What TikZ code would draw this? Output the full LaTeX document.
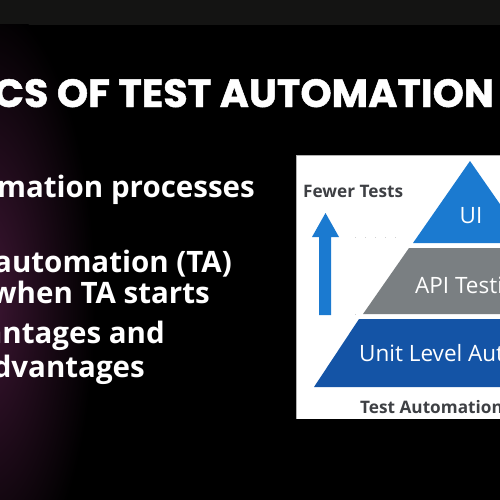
\documentclass[tikz,border=0pt]{standalone}
\usepackage{fontspec}
\usepackage{graphicx}
\newfontfamily\titlefont{Poppins}[BoldFeatures={FakeBold=1.2}]
\newfontfamily\bodyfont{Open Sans}
\newfontfamily\pyrfont{Open Sans}
\definecolor{topstrip}{RGB}{20,20,19}
\definecolor{glow}{RGB}{62,22,52}
\definecolor{uiblue}{RGB}{27,122,208}
\definecolor{apigray}{RGB}{122,127,130}
\definecolor{unitblue}{RGB}{20,84,166}
\definecolor{labelgray}{RGB}{62,64,68}
\tikzset{
  title/.style={text=white, inner sep=0pt, font=\titlefont\bfseries},
  bodytext/.style={text=white, inner sep=0pt, font=\bodyfont\bfseries\fontsize{29.5}{33}\selectfont},
  layerlabel/.style={text=white, inner sep=0pt, font=\pyrfont\fontsize{22.5}{25}\selectfont},
  caption/.style={text=labelgray, inner sep=0pt, font=\pyrfont\bfseries\fontsize{17.2}{20}\selectfont},
  guide/.style={gray!35, line width=1pt, dash pattern=on 1pt off 9pt}
}
\begin{document}
\begin{tikzpicture}[x=1pt,y=-1pt]
\useasboundingbox (0,0) rectangle (500,500);
\fill[black] (0,0) rectangle (500,500);
\fill[topstrip] (0,0) rectangle (500,25);
\begin{scope}
\clip (0,25) rectangle (500,500);
\shade[inner color=glow, outer color=black] (-15,300) ellipse (110 and 300);
\end{scope}
% title
\node[title, anchor=base east] (ttl) at (494,107) {\resizebox{500pt}{28pt}{CS OF TEST AUTOMATION}};
% bullet text
\node[bodytext, anchor=base east] (b1) at (255,197) {omation processes};
\node[bodytext, anchor=base east] (b2) at (232,272) {automation (TA)};
\node[bodytext, anchor=base east] (b3) at (210,303) {when TA starts};
\node[bodytext, anchor=base east] (b4) at (165,343) {antages and};
\node[bodytext, anchor=base east] (b5) at (145,377) {dvantages};
% panel
\fill[white] (296,155) rectangle (500,419);
\draw[gray!60, line width=0.6pt] (296,419) -- (296,155) -- (500,155);
\begin{scope}
\clip (296,155) rectangle (500,419);
\fill[uiblue] (470,161) -- (413,243) -- (527,243) -- cycle;
\fill[apigray] (409,248) -- (363,314) -- (577,314) -- (531,248) -- cycle;
\fill[unitblue] (359,319) -- (314,387) -- (626,387) -- (581,319) -- cycle;
\end{scope}
\draw[guide] (355,237) -- (403,237);
\draw[guide] (355,314) -- (362,314);
% arrow
\fill[uiblue] (319,315) -- (319,237) -- (312,237) -- (325.5,213) -- (339,237) -- (331,237) -- (331,315) -- cycle;
\node[caption, anchor=base west] (few) at (303,197) {Fewer Tests};
\node[layerlabel, anchor=base] (ui) at (471,223) {UI};
\node[layerlabel, anchor=base west] (api) at (415,293) {API Testi};
\node[layerlabel, anchor=base west] (unit) at (359,361) {Unit Level Aut};
\node[caption, anchor=base west] (cap) at (360,413) {Test Automation};
\end{tikzpicture}
\end{document}
